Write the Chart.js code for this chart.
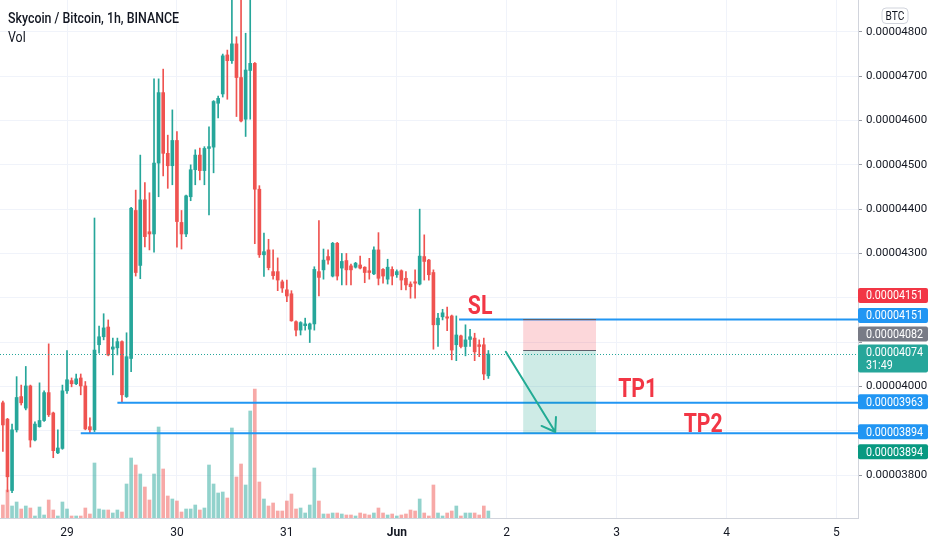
<!DOCTYPE html>
<html>
<head>
<meta charset="utf-8">
<title>Skycoin / Bitcoin, 1h, BINANCE</title>
<script src="https://cdn.jsdelivr.net/npm/chart.js@4.4.1/dist/chart.umd.min.js"></script>
<style>
  html, body { margin: 0; padding: 0; background: #fff; }
  #wrap { width: 932px; height: 550px; }
</style>
</head>
<body>
<div id="wrap"><canvas id="priceChart" width="932" height="550"></canvas></div>
<script>
// hourly candles, prices in 1e-8 BTC (4151 -> 0.00004151)
const opens = [
  3963, 3926, 3765, 3902, 3977, 3951, 4001, 3879, 3909, 3923,
  3986, 3940, 3850, 3860, 3990, 4013, 4006, 4019, 4001, 3909,
  3902, 4094, 4112, 4134, 4084, 4087, 4101, 3977, 4063, 4397,
  4273, 4421, 4349, 4344, 4504, 4663, 4526, 4498, 4555, 4370,
  4344, 4428, 4489, 4522, 4487, 4537, 4540, 4639, 4660, 4748,
  4735, 4773, 4697, 4603, 4713, 4729, 4445, 4297, 4308, 4259,
  4259, 4236, 4218, 4209, 4146, 4127, 4137, 4129, 4141, 4259,
  4263, 4293, 4249, 4323, 4267, 4284, 4272, 4269, 4274, 4269,
  4261, 4254, 4308, 4264, 4242, 4264, 4252, 4261, 4244, 4231,
  4236, 4231, 4293, 4285, 4257, 4139, 4157, 4157, 4159, 4094,
  4114, 4090, 4106, 4109, 4094, 4094, 4024,
];
const highs = [
  3967, 3928, 3915, 4022, 4003, 4045, 4003, 3920, 4008, 3990,
  4096, 3942, 3902, 4003, 4081, 4019, 4028, 4028, 4011, 3929,
  4380, 4136, 4164, 4150, 4109, 4109, 4103, 4121, 4404, 4443,
  4522, 4460, 4437, 4694, 4694, 4716, 4567, 4624, 4575, 4397,
  4432, 4500, 4534, 4538, 4541, 4586, 4645, 4655, 4750, 4759,
  4900, 4789, 4900, 4797, 4900, 4731, 4453, 4346, 4332, 4308,
  4290, 4240, 4240, 4216, 4148, 4146, 4154, 4143, 4270, 4374,
  4310, 4308, 4325, 4325, 4300, 4300, 4276, 4280, 4294, 4270,
  4289, 4315, 4347, 4266, 4287, 4270, 4263, 4263, 4259, 4236,
  4263, 4400, 4342, 4287, 4263, 4165, 4174, 4179, 4161, 4159,
  4116, 4139, 4129, 4120, 4105, 4109, 4081,
];
const lows = [
  3853, 3762, 3760, 3897, 3958, 3947, 3863, 3877, 3908, 3921,
  3932, 3839, 3848, 3858, 3984, 3999, 4004, 3981, 3902, 3895,
  3898, 4075, 4105, 4069, 4026, 4071, 3963, 3975, 4033, 4249,
  4243, 4315, 4308, 4303, 4428, 4475, 4447, 4455, 4314, 4310,
  4338, 4419, 4455, 4466, 4455, 4387, 4482, 4606, 4653, 4648,
  4729, 4609, 4597, 4564, 4603, 4322, 4291, 4248, 4263, 4242,
  4216, 4212, 4191, 4147, 4114, 4116, 4127, 4099, 4127, 4204,
  4242, 4276, 4247, 4240, 4229, 4229, 4229, 4267, 4265, 4234,
  4242, 4252, 4229, 4233, 4231, 4229, 4246, 4218, 4218, 4199,
  4199, 4229, 4240, 4240, 4084, 4090, 4150, 4126, 4060, 4058,
  4087, 4069, 4090, 4058, 4067, 4015, 4018,
];
const closes = [
  3913, 3796, 3902, 3975, 3963, 4001, 3879, 3915, 3923, 3986,
  3936, 3855, 3861, 3990, 4015, 4006, 4017, 4001, 3904, 3902,
  4082, 4112, 4132, 4071, 4089, 4101, 3981, 4067, 4402, 4257,
  4421, 4338, 4344, 4504, 4663, 4526, 4498, 4555, 4372, 4344,
  4430, 4489, 4522, 4487, 4537, 4541, 4643, 4650, 4746, 4735,
  4773, 4697, 4599, 4714, 4729, 4445, 4297, 4304, 4268, 4250,
  4240, 4222, 4204, 4148, 4127, 4144, 4141, 4141, 4264, 4246,
  4285, 4285, 4323, 4249, 4282, 4263, 4263, 4278, 4267, 4257,
  4257, 4308, 4244, 4249, 4269, 4249, 4259, 4240, 4229, 4225,
  4233, 4294, 4282, 4252, 4139, 4154, 4166, 4154, 4082, 4116,
  4090, 4105, 4112, 4078, 4090, 4028, 4073,
];
const volumes = [
  13, 28, 12, 16, 9, 12, 10, 2, 11, 3,
  18, 8, 2, 16, 9, 2, 2, 2, 10, 4,
  55, 9, 8, 8, 5, 8, 6, 34, 60, 53,
  44, 31, 18, 44, 91, 49, 22, 19, 17, 6,
  9, 9, 13, 8, 10, 53, 34, 25, 26, 20,
  90, 41, 54, 33, 107, 129, 36, 19, 12, 15,
  7, 7, 17, 24, 9, 10, 5, 13, 50, 17,
  4, 4, 5, 5, 4, 3, 3, 2, 5, 4,
  3, 5, 10, 5, 3, 4, 2, 3, 4, 8,
  7, 19, 5, 2, 33, 5, 2, 5, 7, 12,
  2, 5, 5, 5, 3, 12, 7,
];

// candle index of each midnight and its label
const dayTicks = [14, 38, 62, 86, 110, 134, 158, 182];
const dayLabels = ['29', '30', '31', 'Jun', '2', '3', '4', '5'];
const priceTicks = [3800, 3900, 4000, 4100, 4200, 4300, 4400, 4500, 4600, 4700, 4800];
const hiddenPriceLabels = [3900, 4100, 4200];

const FONT = 'Roboto, "Liberation Sans", sans-serif';
const UP = '#26a69a';
const DOWN = '#ef5350';
const LEVEL_BLUE = '#2196f3';

// drawings on the chart, in candle-index / price units
const levels = [
  { price: 4151, from: 99.6 },
  { price: 3963, from: 25 },
  { price: 3894, from: 17 },
];
const lastPrice = 4074;
const position = { from: 113.6, to: 129.5, stop: 4151, entry: 4082, target: 3894 };
const arrow = { x0: 109.8, y0: 4078, x1: 120.6, y1: 3897 };
const notes = [
  { text: 'SL', x: 104.2, y: 4181 },
  { text: 'TP1', x: 138.6, y: 3992 },
  { text: 'TP2', x: 152.9, y: 3913 },
];
const axisTags = [
  { lines: ['0.00004151'], price: 4151, shift: -24, color: '#f23645' },
  { lines: ['0.00004151'], price: 4151, shift: -4, color: LEVEL_BLUE },
  { lines: ['0.00004082'], price: 4082, shift: -16, color: '#787b86' },
  { lines: ['0.00004074', '31:49'], price: 4074, shift: 5, color: UP },
  { lines: ['0.00003963'], price: 3963, shift: -1, color: LEVEL_BLUE },
  { lines: ['0.00003894'], price: 3894, shift: -1.5, color: LEVEL_BLUE },
  { lines: ['0.00003894'], price: 3894, shift: 18.5, color: '#089981' },
];

function isUp(i) {
  return closes[i] >= opens[i];
}

function priceLabel(v) {
  return '0.0000' + v;
}

function roundRect(ctx, x, y, w, h, r) {
  ctx.beginPath();
  ctx.moveTo(x + r, y);
  ctx.lineTo(x + w - r, y);
  ctx.quadraticCurveTo(x + w, y, x + w, y + r);
  ctx.lineTo(x + w, y + h - r);
  ctx.quadraticCurveTo(x + w, y + h, x + w - r, y + h);
  ctx.lineTo(x + r, y + h);
  ctx.quadraticCurveTo(x, y + h, x, y + h - r);
  ctx.lineTo(x, y + r);
  ctx.quadraticCurveTo(x, y, x + r, y);
  ctx.closePath();
}

// text squeezed horizontally by sx (the screenshot font is narrow)
function squeezedText(ctx, text, x, y, sx) {
  ctx.save();
  ctx.translate(x, y);
  ctx.scale(sx, 1);
  ctx.fillText(text, 0, 0);
  ctx.restore();
}

function drawDrawings(chart) {
  const { ctx, chartArea } = chart;
  const xs = chart.scales.x;
  const ys = chart.scales.y;
  ctx.save();
  ctx.beginPath();
  ctx.rect(chartArea.left, chartArea.top, chartArea.width, chartArea.height);
  ctx.clip();

  // current price dotted line
  const py = Math.round(ys.getPixelForValue(lastPrice)) + 0.5;
  ctx.strokeStyle = UP;
  ctx.lineWidth = 1;
  ctx.setLineDash([1, 2]);
  ctx.beginPath();
  ctx.moveTo(chartArea.left, py);
  ctx.lineTo(chartArea.right, py);
  ctx.stroke();
  ctx.setLineDash([]);

  // SL / TP levels
  ctx.strokeStyle = LEVEL_BLUE;
  ctx.lineWidth = 2;
  levels.forEach((lv) => {
    const y = ys.getPixelForValue(lv.price);
    ctx.beginPath();
    ctx.moveTo(xs.getPixelForValue(lv.from), y);
    ctx.lineTo(chartArea.right, y);
    ctx.stroke();
  });

  // short position box
  const bx0 = xs.getPixelForValue(position.from);
  const bx1 = xs.getPixelForValue(position.to);
  const yStop = ys.getPixelForValue(position.stop);
  const yEntry = ys.getPixelForValue(position.entry);
  const yTarget = ys.getPixelForValue(position.target);
  ctx.fillStyle = 'rgba(242, 54, 69, 0.2)';
  ctx.fillRect(bx0, yStop, bx1 - bx0, yEntry - yStop);
  ctx.fillStyle = 'rgba(8, 153, 129, 0.2)';
  ctx.fillRect(bx0, yEntry, bx1 - bx0, yTarget - yEntry);
  ctx.strokeStyle = '#5d606b';
  ctx.lineWidth = 1;
  [yStop, yEntry].forEach((y) => {
    ctx.beginPath();
    ctx.moveTo(bx0, Math.round(y) + 0.5);
    ctx.lineTo(bx1, Math.round(y) + 0.5);
    ctx.stroke();
  });

  // arrow
  const ax0 = xs.getPixelForValue(arrow.x0);
  const ay0 = ys.getPixelForValue(arrow.y0);
  const ax1 = xs.getPixelForValue(arrow.x1);
  const ay1 = ys.getPixelForValue(arrow.y1);
  const ang = Math.atan2(ay1 - ay0, ax1 - ax0);
  ctx.strokeStyle = '#22ab94';
  ctx.lineWidth = 2;
  ctx.lineCap = 'round';
  ctx.beginPath();
  ctx.moveTo(ax0, ay0);
  ctx.lineTo(ax1, ay1);
  [-0.6, 0.6].forEach((d) => {
    ctx.moveTo(ax1, ay1);
    ctx.lineTo(ax1 - 15 * Math.cos(ang + d), ay1 - 15 * Math.sin(ang + d));
  });
  ctx.stroke();

  // SL / TP notes
  ctx.fillStyle = '#f23645';
  ctx.font = `bold 26px ${FONT}`;
  ctx.textAlign = 'center';
  ctx.textBaseline = 'middle';
  const noteScale = 39 / ctx.measureText('TP1').width;
  notes.forEach((n) => {
    squeezedText(ctx, n.text, xs.getPixelForValue(n.x), ys.getPixelForValue(n.y) + 1, noteScale);
  });
  ctx.restore();
}

function drawAxisTags(chart) {
  const { ctx, chartArea } = chart;
  const ys = chart.scales.y;
  const left = chartArea.right;
  ctx.save();
  ctx.font = `13px ${FONT}`;
  ctx.textAlign = 'left';
  ctx.textBaseline = 'middle';
  const tagScale = 57 / ctx.measureText('0.00004074').width;
  axisTags.forEach((tag) => {
    const h = tag.lines.length > 1 ? 28 : 15;
    const cy = ys.getPixelForValue(tag.price) + tag.shift;
    roundRect(ctx, left, cy - h / 2, 70, h, 2);
    ctx.fillStyle = tag.color;
    ctx.fill();
    ctx.fillStyle = '#ffffff';
    tag.lines.forEach((t, k) => {
      squeezedText(ctx, t, left + 8, cy + 0.5 - (tag.lines.length - 1) * 6.7 + k * 13.4, tagScale);
    });
  });

  // currency box
  roundRect(ctx, 882, 8, 26, 15.5, 4);
  ctx.fillStyle = '#ffffff';
  ctx.fill();
  ctx.strokeStyle = '#d1d4dc';
  ctx.lineWidth = 1;
  ctx.stroke();
  ctx.fillStyle = '#131722';
  ctx.font = `12px ${FONT}`;
  ctx.textAlign = 'center';
  squeezedText(ctx, 'BTC', 895, 16.5, 0.85);

  // legend text
  ctx.textAlign = 'left';
  ctx.font = `500 14px ${FONT}`;
  const titleText = 'Skycoin / Bitcoin, 1h, BINANCE';
  const titleScale = 171 / ctx.measureText(titleText).width;
  squeezedText(ctx, titleText, 8, 19, titleScale);
  ctx.font = `14px ${FONT}`;
  squeezedText(ctx, 'Vol', 8, 38, titleScale);
  ctx.restore();
}

const overlayPlugin = {
  id: 'overlay',
  afterDatasetsDraw: drawDrawings,
  afterDraw: drawAxisTags,
};

function renderChart() {
  const idx = opens.map((_, i) => i);
  const ctx = document.getElementById('priceChart');

  new Chart(ctx, {
    type: 'bar',
    data: {
      datasets: [
        {
          data: idx.map((i) => ({ x: i, y: [opens[i], closes[i]] })),
          backgroundColor: (c) => (isUp(c.dataIndex) ? UP : DOWN),
          barThickness: 3,
          minBarLength: 1,
          grouped: false,
          order: 1,
        },
        {
          data: idx.map((i) => ({ x: i, y: [lows[i], highs[i]] })),
          backgroundColor: (c) => (isUp(c.dataIndex) ? UP : DOWN),
          barThickness: 1,
          grouped: false,
          order: 2,
        },
        {
          data: idx.map((i) => ({ x: i, y: volumes[i] })),
          backgroundColor: (c) => (isUp(c.dataIndex) ? 'rgba(38, 166, 154, 0.5)' : 'rgba(239, 83, 80, 0.5)'),
          barThickness: 3,
          grouped: false,
          yAxisID: 'yVol',
          order: 3,
        },
      ],
    },
    options: {
      responsive: false,
      animation: false,
      devicePixelRatio: 1,
      events: [],
      layout: { padding: 0 },
      plugins: {
        legend: { display: false },
        tooltip: { enabled: false },
      },
      scales: {
        x: {
          type: 'linear',
          min: -0.63,
          max: 186.7,
          offset: false,
          afterBuildTicks: (s) => {
            s.ticks = dayTicks.map((v) => ({ value: v }));
          },
          afterFit: (s) => {
            s.height = 32;
            s.paddingLeft = 0;
            s.paddingRight = 0;
          },
          grid: { color: '#f0f3fa', drawTicks: false, offset: false },
          border: { color: '#d1d4dc' },
          ticks: {
            autoSkip: false,
            maxRotation: 0,
            padding: 8,
            color: '#131722',
            font: (c) => ({ family: FONT, size: 12, weight: c.tick && c.tick.value === 86 ? 'bold' : 'normal' }),
            callback: (v) => dayLabels[dayTicks.indexOf(v)],
          },
        },
        y: {
          position: 'right',
          min: 3703,
          max: 4872,
          afterBuildTicks: (s) => {
            s.ticks = priceTicks.map((v) => ({ value: v }));
          },
          afterFit: (s) => {
            s.width = 74;
            s.paddingTop = 0;
            s.paddingBottom = 0;
          },
          grid: { color: '#f0f3fa', tickLength: 4, tickColor: '#9598a1' },
          border: { color: '#d1d4dc' },
          ticks: {
            autoSkip: false,
            padding: 4,
            color: '#131722',
            font: { family: FONT, size: 11.5 },
            callback: (v) => (hiddenPriceLabels.includes(v) ? '' : priceLabel(v)),
          },
        },
        yVol: {
          display: false,
          min: 0,
          max: 518,
        },
      },
    },
    plugins: [overlayPlugin],
  });
}

document.addEventListener('DOMContentLoaded', renderChart);
</script>
</body>
</html>
